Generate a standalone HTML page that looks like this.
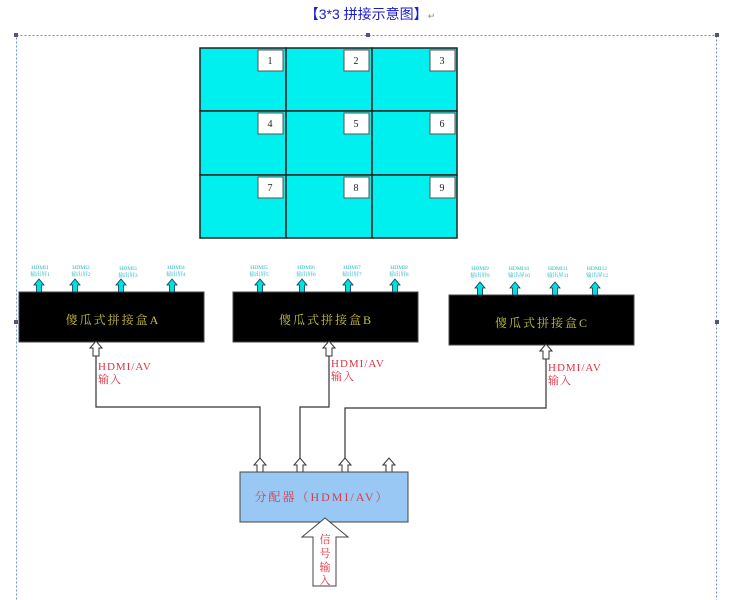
<!DOCTYPE html>
<html><head><meta charset="utf-8"><style>
body{margin:0;background:#fff;width:741px;height:600px;overflow:hidden}
svg{display:block}
text{font-family:"Liberation Serif","Noto Serif CJK SC",serif}
</style></head><body>
<svg width="741" height="600" viewBox="0 0 741 600">
<defs>
<g id="ho"><path d="M-3,0 V-8 H-6 L0,-15 L6,-8 H3 V0 Z" fill="#fff" stroke="#333" stroke-width="1"/></g>
<g id="cy"><path d="M-2.5,0 V-7 H-5 L0,-13 L5,-7 H2.5 V0 Z" fill="#00e0e0" stroke="#135" stroke-width="0.8"/></g>
</defs>
<text x="370" y="19" font-size="14" fill="#1a1ad0" text-anchor="middle" style="font-family:'Liberation Sans','Noto Sans CJK SC',sans-serif">【3*3 拼接示意图】<tspan fill="#888" font-size="9">↵</tspan></text>
<rect x="16.5" y="35.5" width="700" height="580" fill="none" stroke="#6b8cc8" stroke-dasharray="2,2"/>
<rect x="14" y="33" width="4" height="4" fill="#557"/><rect x="366" y="33" width="4" height="4" fill="#557"/><rect x="715" y="33" width="4" height="4" fill="#557"/>
<rect x="14" y="320" width="4" height="4" fill="#557"/><rect x="715" y="320" width="4" height="4" fill="#557"/>
<g stroke="#222" stroke-width="1.5" fill="#00f0f0">
<rect x="200" y="48" width="86" height="63"/><rect x="286" y="48" width="86" height="63"/><rect x="372" y="48" width="85" height="63"/>
<rect x="200" y="111" width="86" height="64"/><rect x="286" y="111" width="86" height="64"/><rect x="372" y="111" width="85" height="64"/>
<rect x="200" y="175" width="86" height="63"/><rect x="286" y="175" width="86" height="63"/><rect x="372" y="175" width="85" height="63"/>
</g>
<g fill="#fff" stroke="#555" stroke-width="1">
<rect x="258" y="50" width="25" height="21"/><rect x="344" y="50" width="25" height="21"/><rect x="430" y="50" width="25" height="21"/>
<rect x="258" y="113" width="25" height="21"/><rect x="344" y="113" width="25" height="21"/><rect x="430" y="113" width="25" height="21"/>
<rect x="258" y="177" width="25" height="21"/><rect x="344" y="177" width="25" height="21"/><rect x="430" y="177" width="25" height="21"/>
</g>
<g font-size="10" fill="#222" text-anchor="middle">
<text x="270" y="64">1</text><text x="356" y="64">2</text><text x="442" y="64">3</text>
<text x="270" y="127">4</text><text x="356" y="127">5</text><text x="442" y="127">6</text>
<text x="270" y="191">7</text><text x="356" y="191">8</text><text x="442" y="191">9</text>
</g>
<rect x="19" y="292" width="185" height="50" fill="#000" stroke="#444"/>
<rect x="233" y="292" width="185" height="50" fill="#000" stroke="#444"/>
<rect x="449" y="295" width="185" height="50" fill="#000" stroke="#444"/>
<g font-size="12" fill="#c8c040" text-anchor="middle" letter-spacing="2">
<text x="113" y="324">傻瓜式拼接盒A</text><text x="326" y="324">傻瓜式拼接盒B</text><text x="542" y="327">傻瓜式拼接盒C</text>
</g>
<g>
<use href="#cy" x="39" y="292"/><use href="#cy" x="75" y="292"/><use href="#cy" x="121" y="292"/><use href="#cy" x="172" y="292"/>
<use href="#cy" x="260" y="292"/><use href="#cy" x="302" y="292"/><use href="#cy" x="348" y="292"/><use href="#cy" x="395" y="292"/>
<use href="#cy" x="480" y="295"/><use href="#cy" x="515" y="295"/><use href="#cy" x="555" y="295"/><use href="#cy" x="595" y="295"/>
</g>
<g font-size="5.5" fill="#20b8c0" text-anchor="middle">
<text x="40" y="269">HDMI1</text><text x="40" y="276">输出屏1</text>
<text x="81" y="269">HDMI2</text><text x="81" y="276">输出屏2</text>
<text x="128" y="270">HDMI3</text><text x="128" y="277">输出屏3</text>
<text x="176" y="269">HDMI4</text><text x="176" y="276">输出屏4</text>
<text x="259" y="269">HDMI5</text><text x="259" y="276">输出屏5</text>
<text x="306" y="269">HDMI6</text><text x="306" y="276">输出屏6</text>
<text x="352" y="269">HDMI7</text><text x="352" y="276">输出屏7</text>
<text x="399" y="269">HDMI8</text><text x="399" y="276">输出屏8</text>
<text x="480" y="270">HDMI9</text><text x="480" y="277">输出屏9</text>
<text x="519" y="270">HDMI10</text><text x="519" y="277">输出屏10</text>
<text x="558" y="270">HDMI11</text><text x="558" y="277">输出屏11</text>
<text x="597" y="270">HDMI12</text><text x="597" y="277">输出屏12</text>
</g>
<g fill="none" stroke="#333" stroke-width="1.2">
<path d="M96,356 V407 H260 V460"/>
<path d="M329,356 V407 H300 V460"/>
<path d="M546,358 V408 H345 V460"/>
</g>
<use href="#ho" x="96" y="356"/><use href="#ho" x="329" y="356"/><use href="#ho" x="546" y="359"/>
<use href="#ho" x="260" y="473"/><use href="#ho" x="300" y="473"/><use href="#ho" x="345" y="473"/><use href="#ho" x="389" y="473"/>
<g font-size="11" fill="#e03040" letter-spacing="1">
<text x="98" y="370">HDMI/AV</text><text x="98" y="383">输入</text>
<text x="331" y="367">HDMI/AV</text><text x="331" y="380">输入</text>
<text x="548" y="371">HDMI/AV</text><text x="548" y="384">输入</text>
</g>
<rect x="240" y="472" width="168" height="50" fill="#99c8f4" stroke="#444"/>
<text x="322" y="501" font-size="12" fill="#d04050" text-anchor="middle" letter-spacing="2">分配器（HDMI/AV）</text>
<path d="M313,586 V537 H302 L325,518 L348,537 H336 V586 Z" fill="#fff" stroke="#444"/>
<g font-size="11" fill="#e03040" text-anchor="middle">
<text x="325" y="543">信</text><text x="325" y="557">号</text><text x="325" y="571">输</text><text x="325" y="584">入</text>
</g>
</svg>
</body></html>
